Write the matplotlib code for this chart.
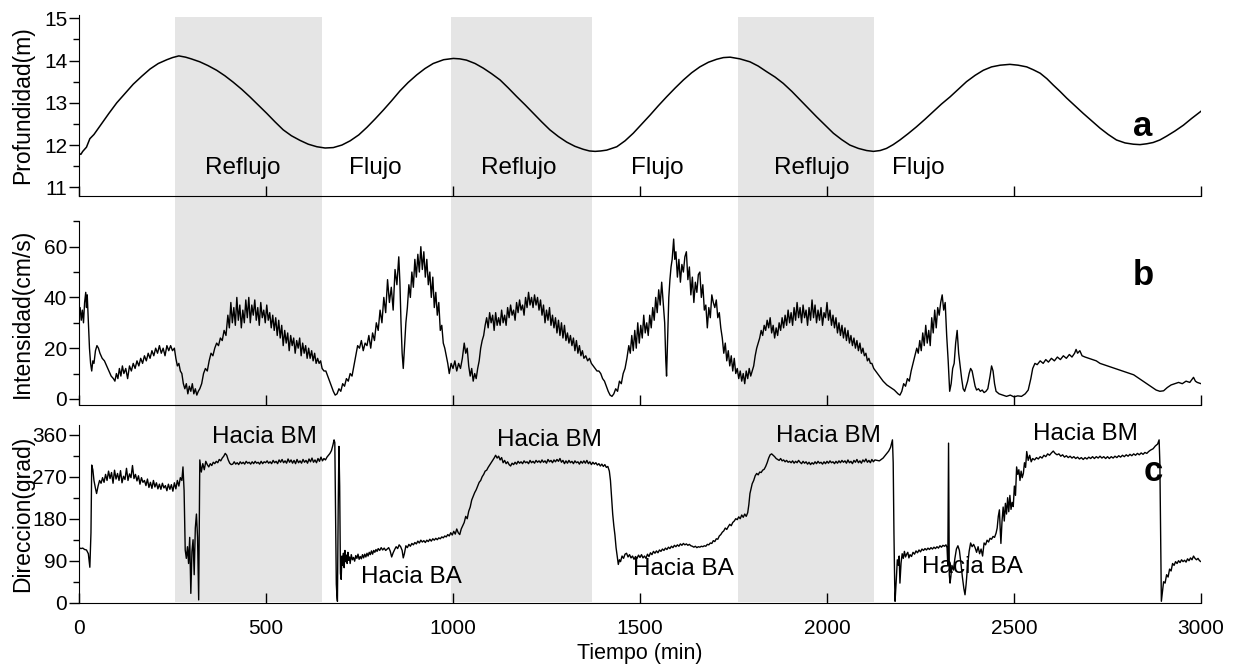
import numpy as np
import matplotlib
matplotlib.use("Agg")
import matplotlib.pyplot as plt
from matplotlib.patches import Rectangle
from matplotlib.ticker import MultipleLocator
from matplotlib.transforms import blended_transform_factory

plt.rcParams["font.family"] = ["Liberation Sans", "DejaVu Sans"]

# --- data: (minutes, value) ---
depth = np.array([
    (0, 11.80), (5, 11.78), (10, 11.85), (20, 11.95), (29, 12.15), (40, 12.25), (56, 12.45), (80, 12.75),
    (101, 13.0), (123, 13.22), (145, 13.44), (168, 13.63), (190, 13.80), (212, 13.93), (235, 14.02),
    (250, 14.07), (267, 14.11), (285, 14.08), (300, 14.04), (323, 13.97), (345, 13.88), (368, 13.77),
    (390, 13.64), (412, 13.49), (435, 13.32), (457, 13.14), (480, 12.94), (502, 12.75), (524, 12.55),
    (546, 12.36), (568, 12.22), (591, 12.11), (613, 12.02), (636, 11.96), (658, 11.93), (680, 11.94),
    (703, 12.00), (725, 12.10), (748, 12.24), (770, 12.42), (792, 12.62), (814, 12.83), (836, 13.05),
    (858, 13.28), (880, 13.48), (903, 13.66), (925, 13.81), (947, 13.93), (975, 14.02), (1001, 14.05),
    (1018, 14.04), (1036, 14.01), (1059, 13.93), (1081, 13.82), (1103, 13.69), (1126, 13.54),
    (1148, 13.35), (1170, 13.15), (1193, 12.95), (1215, 12.75), (1237, 12.55), (1259, 12.36),
    (1282, 12.20), (1304, 12.07), (1326, 11.97), (1348, 11.90), (1365, 11.86), (1380, 11.85),
    (1395, 11.86), (1411, 11.88), (1438, 11.96), (1460, 12.10), (1482, 12.28), (1504, 12.49),
    (1527, 12.71), (1549, 12.93), (1571, 13.14), (1594, 13.35), (1616, 13.54), (1638, 13.71),
    (1660, 13.85), (1683, 13.96), (1705, 14.03), (1723, 14.07), (1741, 14.08), (1767, 14.04),
    (1794, 13.97), (1816, 13.87), (1838, 13.74), (1861, 13.61), (1883, 13.46), (1906, 13.27),
    (1928, 13.07), (1950, 12.87), (1972, 12.67), (1995, 12.47), (2017, 12.28), (2039, 12.13),
    (2061, 12.00), (2084, 11.92), (2106, 11.87), (2124, 11.85), (2142, 11.87), (2159, 11.92),
    (2177, 12.01), (2195, 12.12), (2217, 12.27), (2239, 12.43), (2262, 12.61), (2284, 12.79),
    (2306, 12.97), (2329, 13.14), (2351, 13.32), (2373, 13.50), (2396, 13.65), (2418, 13.77),
    (2440, 13.85), (2463, 13.89), (2489, 13.91), (2511, 13.89), (2534, 13.85), (2552, 13.78),
    (2570, 13.70), (2588, 13.57), (2605, 13.42), (2623, 13.27), (2641, 13.11), (2663, 12.93),
    (2685, 12.75), (2708, 12.57), (2730, 12.40), (2752, 12.25), (2774, 12.12), (2797, 12.05),
    (2819, 12.02), (2837, 12.01), (2855, 12.03), (2872, 12.06), (2890, 12.12), (2908, 12.21),
    (2930, 12.33), (2953, 12.47), (2975, 12.63), (3000, 12.80),
])

speed = np.array([
    (0, 33), (3, 36), (6, 31), (9, 35), (12, 30), (15, 38), (18, 42), (20, 36), (22, 41), (25, 30), (28, 20),
    (31, 14), (34, 11), (37, 15), (40, 14), (44, 19), (48, 21), (52, 20), (56, 18), (62, 16), (68, 15),
    (74, 13), (80, 11), (86, 9), (92, 8), (96, 7), (100, 10), (104, 8), (108, 12), (112, 9), (116, 13),
    (120, 10), (125, 12), (130, 8), (135, 13), (140, 11), (145, 14), (150, 12), (155, 15), (160, 13),
    (165, 16), (170, 14), (175, 17), (180, 15), (185, 18), (190, 16), (195, 19), (200, 17), (205, 20),
    (210, 18), (215, 21), (220, 18), (225, 20), (230, 17), (235, 21), (240, 19), (245, 21), (250, 19),
    (255, 20), (259, 16), (263, 13), (267, 14), (271, 11), (275, 10), (279, 6), (283, 4), (287, 6),
    (291, 2), (295, 5), (299, 3), (303, 6), (307, 2), (311, 4), (315, 1.5), (319, 3), (323, 4), (328, 6),
    (333, 10), (338, 12), (343, 11), (348, 15), (353, 18), (358, 17), (363, 20), (368, 22), (373, 21),
    (378, 24), (383, 23), (388, 27), (393, 25), (398, 33), (402, 28), (406, 38), (410, 30), (414, 36),
    (418, 29), (422, 40), (426, 31), (430, 37), (434, 28), (438, 35), (442, 30), (446, 39), (450, 32),
    (454, 40), (458, 30), (462, 37), (466, 33), (470, 39), (474, 31), (478, 36), (482, 29), (486, 38),
    (490, 32), (494, 35), (498, 30), (502, 37), (506, 31), (510, 34), (514, 28), (518, 33), (522, 27),
    (526, 32), (530, 25), (534, 31), (538, 24), (542, 29), (546, 21), (550, 27), (554, 22), (558, 26),
    (562, 19), (566, 25), (570, 21), (574, 24), (578, 18), (582, 23), (586, 20), (590, 24), (594, 17),
    (598, 22), (602, 18), (606, 21), (610, 16), (614, 20), (618, 16), (622, 19), (626, 15), (630, 18),
    (634, 14), (638, 16), (642, 14), (646, 15), (650, 12), (655, 11), (660, 11), (665, 9), (670, 7),
    (675, 5), (680, 3), (685, 1.5), (690, 2), (695, 4), (700, 3), (705, 6), (710, 5), (715, 8), (720, 7),
    (725, 10), (730, 9), (735, 13), (740, 17), (745, 21), (750, 20), (755, 23), (760, 19), (765, 22),
    (770, 21), (775, 25), (780, 20), (785, 26), (790, 23), (795, 30), (800, 27), (805, 35), (810, 30),
    (815, 40), (820, 34), (825, 47), (830, 38), (835, 44), (840, 35), (845, 51), (850, 45), (855, 56),
    (858, 46), (861, 30), (864, 18), (867, 12), (870, 20), (874, 30), (878, 36), (882, 45), (886, 40),
    (890, 50), (894, 44), (898, 55), (902, 48), (906, 57), (910, 50), (914, 60), (918, 51), (922, 58),
    (926, 48), (930, 55), (934, 45), (938, 50), (942, 40), (946, 48), (950, 36), (954, 42), (958, 33),
    (962, 38), (966, 27), (970, 29), (974, 22), (978, 20), (982, 17), (986, 14), (990, 10), (995, 14),
    (1000, 12), (1005, 15), (1010, 11), (1015, 14), (1020, 12), (1025, 16), (1030, 22), (1034, 18),
    (1038, 20), (1042, 13), (1046, 9), (1050, 12), (1054, 7), (1058, 10), (1062, 8), (1066, 12),
    (1070, 15), (1074, 20), (1078, 23), (1082, 25), (1086, 29), (1090, 32), (1094, 28), (1098, 34),
    (1102, 30), (1106, 33), (1110, 27), (1114, 34), (1118, 29), (1122, 32), (1126, 29), (1130, 35),
    (1134, 30), (1138, 33), (1142, 29), (1146, 36), (1150, 32), (1154, 37), (1158, 33), (1162, 35),
    (1166, 31), (1170, 38), (1174, 34), (1178, 39), (1182, 35), (1186, 37), (1190, 33), (1194, 40),
    (1198, 36), (1202, 42), (1206, 37), (1210, 40), (1214, 36), (1218, 41), (1222, 37), (1226, 40),
    (1230, 35), (1234, 39), (1238, 33), (1242, 37), (1246, 30), (1250, 35), (1254, 31), (1258, 36),
    (1262, 29), (1266, 33), (1270, 28), (1274, 32), (1278, 26), (1282, 31), (1286, 25), (1290, 30),
    (1294, 24), (1298, 29), (1302, 23), (1306, 26), (1310, 22), (1314, 25), (1318, 21), (1322, 24),
    (1326, 19), (1330, 23), (1334, 18), (1338, 21), (1342, 17), (1346, 19), (1350, 16), (1355, 17),
    (1360, 15), (1365, 16), (1370, 14), (1375, 13), (1380, 12), (1385, 11), (1390, 11), (1395, 10),
    (1400, 8), (1405, 7), (1410, 5), (1415, 3), (1420, 1.5), (1425, 1), (1430, 2), (1435, 4), (1440, 3),
    (1445, 7), (1450, 6), (1455, 10), (1460, 12), (1465, 16), (1470, 21), (1474, 18), (1478, 25),
    (1482, 19), (1486, 27), (1490, 20), (1494, 30), (1498, 22), (1502, 29), (1506, 24), (1510, 33),
    (1514, 26), (1518, 30), (1522, 25), (1526, 33), (1530, 28), (1534, 36), (1538, 31), (1542, 40),
    (1546, 34), (1550, 43), (1554, 37), (1558, 46), (1562, 38), (1566, 30), (1569, 15), (1571, 9),
    (1574, 25), (1577, 40), (1580, 47), (1583, 52), (1586, 55), (1590, 63), (1593, 55), (1596, 58),
    (1600, 48), (1604, 55), (1608, 46), (1612, 53), (1616, 50), (1620, 56), (1624, 58), (1628, 47),
    (1632, 52), (1636, 41), (1640, 48), (1644, 38), (1648, 46), (1652, 42), (1656, 49), (1660, 50),
    (1664, 40), (1668, 45), (1672, 35), (1676, 37), (1680, 28), (1684, 36), (1688, 32), (1692, 41),
    (1696, 38), (1700, 36), (1704, 39), (1708, 32), (1712, 34), (1716, 28), (1720, 24), (1724, 18),
    (1728, 22), (1732, 15), (1736, 19), (1740, 13), (1744, 17), (1748, 11), (1752, 16), (1756, 10),
    (1760, 12), (1764, 8), (1768, 11), (1772, 7), (1776, 10), (1780, 6), (1784, 11), (1788, 8),
    (1792, 12), (1796, 9), (1800, 11), (1804, 13), (1808, 17), (1812, 20), (1816, 22), (1820, 24),
    (1824, 27), (1828, 25), (1832, 29), (1836, 27), (1840, 31), (1844, 28), (1848, 32), (1852, 26),
    (1856, 29), (1860, 24), (1864, 28), (1868, 25), (1872, 30), (1876, 27), (1880, 32), (1884, 28),
    (1888, 33), (1892, 29), (1896, 35), (1900, 30), (1904, 34), (1908, 29), (1912, 36), (1916, 31),
    (1920, 38), (1924, 32), (1928, 36), (1932, 30), (1936, 37), (1940, 32), (1944, 35), (1948, 29),
    (1952, 36), (1956, 31), (1960, 39), (1964, 32), (1968, 37), (1972, 30), (1976, 35), (1980, 31),
    (1984, 36), (1988, 29), (1992, 34), (1996, 32), (2000, 38), (2004, 31), (2008, 35), (2012, 29),
    (2016, 33), (2020, 28), (2024, 32), (2028, 26), (2032, 30), (2036, 25), (2040, 29), (2044, 24),
    (2048, 28), (2052, 23), (2056, 27), (2060, 22), (2064, 25), (2068, 21), (2072, 24), (2076, 20),
    (2080, 23), (2084, 19), (2088, 22), (2092, 18), (2096, 20), (2100, 17), (2104, 18), (2108, 15),
    (2112, 16), (2116, 14), (2120, 14), (2125, 12), (2130, 11), (2140, 9), (2150, 7), (2160, 5.5),
    (2170, 4.5), (2180, 3.5), (2190, 2), (2195, 1.5), (2200, 3), (2205, 6), (2210, 5), (2215, 8),
    (2220, 7), (2225, 11), (2230, 14), (2235, 17), (2240, 20), (2244, 18), (2248, 23), (2252, 19),
    (2256, 26), (2260, 21), (2264, 29), (2268, 22), (2272, 27), (2276, 21), (2280, 32), (2284, 26),
    (2288, 35), (2292, 28), (2296, 36), (2300, 33), (2304, 38), (2308, 41), (2312, 35), (2316, 38),
    (2320, 25), (2324, 15), (2328, 3), (2332, 6), (2336, 12), (2340, 14), (2344, 22), (2348, 27),
    (2352, 18), (2356, 13), (2360, 8), (2364, 4), (2368, 3), (2372, 5), (2376, 7), (2380, 10),
    (2384, 12), (2388, 11), (2392, 8), (2396, 5), (2400, 3.5), (2405, 4), (2410, 3), (2415, 3.5),
    (2420, 2.5), (2425, 3), (2430, 4), (2436, 9), (2440, 13), (2444, 11), (2448, 6), (2452, 3),
    (2460, 2), (2470, 1.5), (2480, 1), (2490, 1.5), (2500, 0.8), (2510, 1.2), (2520, 1), (2530, 2),
    (2538, 3.5), (2545, 8), (2550, 12), (2556, 14), (2562, 13.5), (2570, 15), (2578, 14),
    (2585, 15.5), (2592, 14.5), (2600, 16), (2608, 15), (2616, 16.5), (2624, 15.5), (2632, 17),
    (2640, 16), (2648, 17.5), (2655, 16.5), (2662, 18), (2666, 19.5), (2670, 18), (2676, 19),
    (2682, 17), (2690, 16.5), (2700, 16), (2710, 15.5), (2720, 15), (2730, 14), (2740, 13.5),
    (2750, 13), (2760, 12.5), (2770, 12), (2780, 11.5), (2790, 11), (2800, 10.5), (2810, 10),
    (2820, 9.5), (2830, 8.5), (2840, 7.5), (2850, 6.5), (2860, 5.5), (2870, 4.5), (2880, 3.5),
    (2890, 3), (2900, 3.2), (2910, 4.5), (2920, 5.5), (2930, 6), (2940, 6.5), (2950, 6), (2960, 7),
    (2970, 6.5), (2980, 8.5), (2985, 7), (2990, 6.5), (3000, 6),
])

direction = np.array([
    (0, 118), (5, 116), (10, 117), (15, 114), (20, 113), (25, 105), (29, 76), (32, 150), (34, 295),
    (37, 285), (40, 262), (44, 245), (47, 234), (51, 250), (55, 262), (59, 256), (63, 268), (67, 258),
    (71, 275), (75, 262), (79, 282), (83, 266), (87, 279), (91, 256), (95, 284), (99, 265), (103, 277),
    (107, 262), (111, 283), (115, 257), (119, 271), (123, 264), (127, 288), (131, 262), (135, 276),
    (139, 268), (143, 294), (147, 266), (151, 275), (155, 261), (159, 272), (163, 254), (167, 268),
    (171, 258), (175, 262), (179, 251), (183, 265), (187, 247), (191, 258), (195, 245), (199, 262),
    (203, 248), (207, 257), (211, 244), (215, 254), (219, 243), (223, 256), (227, 246), (231, 251),
    (235, 240), (239, 254), (243, 243), (247, 253), (251, 239), (255, 257), (259, 244), (263, 262),
    (267, 250), (271, 268), (275, 262), (278, 291), (281, 240), (284, 113), (287, 95), (290, 120),
    (293, 84), (296, 140), (299, 20), (302, 110), (305, 135), (308, 60), (311, 160), (314, 190),
    (317, 140), (320, 6), (323, 306), (327, 280), (331, 298), (335, 285), (339, 303), (343, 296),
    (347, 291), (351, 298), (355, 294), (359, 301), (363, 298), (367, 303), (371, 300), (375, 307),
    (379, 304), (383, 310), (387, 314), (391, 320), (395, 316), (399, 306), (403, 299), (407, 296),
    (411, 297), (415, 302), (419, 297), (423, 300), (427, 296), (431, 302), (435, 298), (439, 301),
    (443, 297), (447, 303), (451, 299), (455, 301), (459, 297), (463, 302), (467, 298), (471, 303),
    (475, 299), (479, 301), (483, 297), (487, 303), (491, 298), (495, 302), (499, 300), (503, 304),
    (507, 299), (511, 302), (515, 298), (519, 305), (523, 300), (527, 303), (531, 298), (535, 306),
    (539, 301), (543, 307), (547, 300), (551, 304), (555, 299), (559, 308), (563, 301), (567, 306),
    (571, 299), (575, 305), (579, 298), (583, 307), (587, 300), (591, 304), (595, 299), (599, 307),
    (603, 301), (607, 305), (611, 299), (615, 308), (619, 302), (623, 310), (627, 301), (631, 306),
    (635, 300), (639, 309), (643, 303), (647, 312), (651, 304), (655, 309), (659, 306), (663, 312),
    (667, 316), (671, 320), (675, 326), (679, 338), (682, 349), (684, 343), (686, 200), (688, 40),
    (690, 10), (691, 3), (693, 200), (695, 335), (697, 250), (699, 63), (701, 50), (703, 100),
    (705, 80), (707, 106), (709, 75), (711, 112), (713, 88), (715, 102), (717, 84), (719, 108),
    (721, 91), (723, 98), (725, 84), (728, 103), (731, 92), (734, 97), (737, 89), (740, 101),
    (743, 95), (746, 104), (749, 93), (752, 99), (755, 94), (758, 103), (761, 96), (764, 104),
    (767, 98), (770, 106), (773, 100), (776, 108), (779, 103), (782, 111), (785, 104), (788, 112),
    (791, 108), (794, 114), (797, 110), (800, 116), (804, 112), (808, 118), (812, 113), (816, 117),
    (820, 112), (824, 115), (828, 118), (832, 111), (836, 98), (840, 107), (844, 114), (848, 120),
    (852, 116), (856, 124), (860, 120), (864, 112), (867, 96), (870, 105), (874, 122), (878, 118),
    (882, 125), (886, 121), (890, 127), (894, 124), (898, 129), (902, 126), (906, 132), (910, 128),
    (914, 134), (918, 130), (922, 133), (926, 129), (930, 134), (934, 131), (938, 136), (942, 132),
    (946, 137), (950, 134), (954, 138), (958, 135), (962, 139), (966, 137), (970, 141), (974, 139),
    (978, 143), (982, 141), (986, 146), (990, 143), (994, 150), (998, 145), (1002, 153), (1006, 147),
    (1010, 158), (1014, 150), (1018, 146), (1022, 158), (1026, 165), (1030, 172), (1034, 185),
    (1038, 180), (1042, 196), (1046, 205), (1050, 220), (1054, 228), (1058, 236), (1062, 242),
    (1066, 250), (1070, 258), (1074, 262), (1078, 270), (1082, 275), (1086, 282), (1090, 284),
    (1094, 290), (1098, 295), (1102, 300), (1106, 305), (1110, 310), (1114, 316), (1118, 310),
    (1122, 314), (1126, 306), (1130, 311), (1134, 300), (1138, 305), (1142, 298), (1146, 302),
    (1150, 296), (1154, 293), (1158, 299), (1162, 296), (1166, 301), (1170, 297), (1174, 303),
    (1178, 299), (1182, 302), (1186, 298), (1190, 304), (1194, 300), (1198, 302), (1202, 298),
    (1206, 305), (1210, 300), (1214, 303), (1218, 299), (1222, 305), (1226, 301), (1230, 304),
    (1234, 300), (1238, 306), (1242, 301), (1246, 304), (1250, 299), (1254, 307), (1258, 302),
    (1262, 305), (1266, 300), (1270, 306), (1274, 302), (1278, 307), (1282, 303), (1286, 309),
    (1290, 301), (1294, 305), (1298, 298), (1302, 304), (1306, 299), (1310, 305), (1314, 300),
    (1318, 303), (1322, 298), (1326, 304), (1330, 300), (1334, 302), (1338, 297), (1342, 303),
    (1346, 299), (1350, 304), (1354, 299), (1358, 305), (1362, 298), (1366, 302), (1370, 296),
    (1374, 301), (1378, 297), (1382, 300), (1386, 295), (1390, 298), (1394, 293), (1398, 297),
    (1402, 292), (1406, 296), (1410, 290), (1414, 292), (1418, 282), (1421, 262), (1424, 225),
    (1427, 190), (1430, 165), (1433, 145), (1436, 118), (1439, 100), (1442, 82), (1445, 92),
    (1448, 88), (1452, 100), (1456, 95), (1460, 104), (1464, 106), (1468, 98), (1472, 103),
    (1476, 96), (1480, 100), (1484, 93), (1488, 99), (1492, 95), (1496, 102), (1500, 97), (1504, 103),
    (1508, 96), (1512, 100), (1516, 95), (1520, 104), (1524, 99), (1528, 107), (1532, 103),
    (1536, 110), (1540, 106), (1544, 111), (1548, 107), (1552, 113), (1556, 110), (1560, 115),
    (1564, 112), (1568, 117), (1572, 114), (1576, 119), (1580, 116), (1584, 121), (1588, 118),
    (1592, 123), (1596, 120), (1600, 124), (1604, 121), (1608, 126), (1612, 123), (1616, 127),
    (1620, 124), (1624, 126), (1628, 123), (1632, 125), (1636, 122), (1640, 121), (1644, 119),
    (1648, 121), (1652, 118), (1656, 120), (1660, 119), (1664, 121), (1668, 120), (1672, 122),
    (1676, 121), (1680, 125), (1684, 124), (1688, 128), (1692, 127), (1696, 133), (1700, 131),
    (1704, 137), (1708, 136), (1712, 143), (1716, 146), (1720, 151), (1724, 154), (1728, 160),
    (1732, 157), (1736, 163), (1740, 168), (1744, 165), (1748, 172), (1752, 175), (1756, 180),
    (1760, 178), (1764, 184), (1768, 180), (1772, 188), (1776, 183), (1780, 190), (1784, 185),
    (1788, 193), (1791, 210), (1794, 234), (1797, 245), (1800, 255), (1804, 262), (1808, 272),
    (1812, 277), (1816, 274), (1820, 280), (1824, 279), (1828, 284), (1832, 286), (1836, 292),
    (1840, 300), (1844, 310), (1848, 317), (1852, 319), (1856, 316), (1860, 313), (1864, 309),
    (1868, 307), (1872, 305), (1876, 309), (1880, 304), (1884, 306), (1888, 302), (1892, 305),
    (1896, 301), (1900, 303), (1904, 300), (1908, 304), (1912, 299), (1916, 303), (1920, 300),
    (1924, 305), (1928, 301), (1932, 298), (1936, 303), (1940, 299), (1944, 302), (1948, 297),
    (1952, 301), (1956, 296), (1960, 300), (1964, 297), (1968, 302), (1972, 298), (1976, 303),
    (1980, 299), (1984, 301), (1988, 297), (1992, 302), (1996, 298), (2000, 303), (2004, 299),
    (2008, 304), (2012, 300), (2016, 302), (2020, 298), (2024, 303), (2028, 299), (2032, 304),
    (2036, 300), (2040, 305), (2044, 301), (2048, 304), (2052, 299), (2056, 306), (2060, 300),
    (2064, 303), (2068, 298), (2072, 305), (2076, 301), (2080, 307), (2084, 300), (2088, 304),
    (2092, 299), (2096, 306), (2100, 302), (2104, 308), (2108, 301), (2112, 305), (2116, 300),
    (2120, 307), (2124, 302), (2128, 306), (2134, 305), (2140, 304), (2150, 310), (2158, 318),
    (2165, 325), (2170, 333), (2175, 349), (2177, 300), (2179, 150), (2181, 40), (2182, 3),
    (2184, 30), (2186, 60), (2188, 92), (2191, 80), (2193, 100), (2195, 42), (2198, 85), (2201, 105),
    (2204, 95), (2207, 110), (2210, 98), (2213, 104), (2216, 108), (2219, 96), (2222, 103),
    (2226, 99), (2230, 108), (2234, 104), (2238, 111), (2242, 107), (2246, 113), (2250, 109),
    (2254, 115), (2258, 112), (2262, 116), (2266, 113), (2270, 117), (2274, 114), (2278, 118),
    (2282, 115), (2286, 119), (2290, 116), (2294, 120), (2298, 117), (2302, 122), (2306, 119),
    (2310, 123), (2314, 121), (2318, 124), (2321, 118), (2323, 80), (2325, 342), (2327, 60),
    (2329, 42), (2331, 55), (2334, 80), (2338, 70), (2342, 95), (2346, 115), (2350, 122), (2354, 112),
    (2358, 85), (2362, 55), (2366, 30), (2369, 17), (2372, 40), (2376, 80), (2380, 110), (2384, 128),
    (2388, 120), (2392, 125), (2396, 118), (2400, 108), (2404, 120), (2408, 105), (2412, 115),
    (2416, 100), (2420, 128), (2424, 124), (2428, 134), (2432, 130), (2436, 138), (2440, 136),
    (2444, 142), (2448, 140), (2452, 149), (2455, 160), (2458, 185), (2461, 199), (2463, 160),
    (2465, 127), (2468, 175), (2471, 205), (2474, 175), (2477, 213), (2480, 190), (2483, 225),
    (2486, 195), (2489, 230), (2492, 200), (2495, 215), (2498, 206), (2501, 250), (2504, 230),
    (2507, 291), (2510, 275), (2513, 285), (2516, 262), (2519, 282), (2522, 268), (2525, 277),
    (2528, 300), (2531, 290), (2534, 324), (2538, 305), (2542, 316), (2546, 302), (2550, 309),
    (2555, 306), (2560, 311), (2565, 308), (2570, 313), (2575, 310), (2580, 316), (2585, 313),
    (2590, 319), (2595, 316), (2600, 321), (2605, 325), (2610, 320), (2615, 317), (2620, 319),
    (2625, 314), (2630, 317), (2635, 312), (2640, 315), (2645, 311), (2650, 314), (2655, 310),
    (2660, 313), (2665, 309), (2670, 312), (2675, 308), (2680, 311), (2685, 307), (2690, 311),
    (2695, 308), (2700, 312), (2705, 309), (2710, 313), (2715, 309), (2720, 313), (2725, 310),
    (2730, 314), (2735, 310), (2740, 313), (2745, 309), (2750, 313), (2755, 309), (2760, 313),
    (2765, 310), (2770, 314), (2775, 311), (2780, 315), (2785, 312), (2790, 316), (2795, 313),
    (2800, 317), (2805, 314), (2810, 318), (2815, 315), (2820, 319), (2825, 316), (2830, 320),
    (2835, 317), (2840, 321), (2845, 318), (2850, 322), (2855, 320), (2860, 324), (2865, 327),
    (2872, 330), (2878, 336), (2884, 340), (2888, 349), (2890, 300), (2892, 150), (2894, 3),
    (2897, 25), (2900, 45), (2904, 42), (2908, 60), (2912, 55), (2916, 72), (2920, 68), (2924, 84),
    (2928, 80), (2932, 88), (2936, 84), (2940, 90), (2944, 86), (2948, 92), (2952, 88), (2956, 91),
    (2960, 87), (2964, 94), (2968, 90), (2972, 96), (2976, 92), (2980, 100), (2984, 95), (2988, 92),
    (2992, 95), (2996, 90), (3000, 88),
])

# ebb (reflujo) windows, minutes
ebb_start = [257, 995, 1761]
ebb_end = [649, 1372, 2125]

phase_labels = ["Reflujo", "Flujo", "Reflujo", "Flujo", "Reflujo", "Flujo"]
phase_x = [439, 791, 1177, 1545, 1960, 2243]

toward_labels = ["Hacia BM", "Hacia BA", "Hacia BM", "Hacia BA", "Hacia BM", "Hacia BA", "Hacia BM"]
toward_x = [497, 890, 1259, 1615, 2003, 2390, 2690]
toward_y = [355, 55, 348, 72, 357, 77, 361]

W, H = 1233, 665
fig = plt.figure(figsize=(W / 100, H / 100), dpi=100)


def px_axes(top, bottom):
    return fig.add_axes([79 / W, 1 - bottom / H, 1122 / W, (bottom - top) / H])


ax_a = px_axes(15, 196)
ax_b = px_axes(221.3, 405)
ax_c = px_axes(425.4, 602.7)

for ax in (ax_a, ax_b, ax_c):
    ax.set_facecolor("none")
    ax.set_xlim(0, 3000)
    for s in ("top", "right"):
        ax.spines[s].set_visible(False)
    ax.xaxis.set_major_locator(MultipleLocator(500))
    ax.tick_params(axis="x", direction="in", length=7.5, width=1, labelsize=15, pad=12)
    ax.tick_params(axis="y", which="major", direction="out", length=7, width=1, labelsize=15, pad=1.5)
    ax.tick_params(axis="y", which="minor", direction="out", length=4.5, width=1)
    ax.yaxis.set_label_coords(-0.040, 0.5)

ax_a.plot(depth[:, 0], depth[:, 1], color="black", lw=1.1)
ax_a.set_ylim(10.794, 15.078)
ax_a.set_yticks([11, 12, 13, 14, 15])
ax_a.yaxis.set_minor_locator(MultipleLocator(0.5))
ax_a.set_ylabel("Profundidad(m)", fontsize=16.5)
ax_a.tick_params(axis="x", labelbottom=False)
for lab, x in zip(phase_labels, phase_x):
    ax_a.text(x, 11.45, lab, fontsize=17.5, ha="center", va="center")
ax_a.text(2845, 12.45, "a", fontsize=25, fontweight="bold", ha="center", va="center")

ax_b.plot(speed[:, 0], speed[:, 1], color="black", lw=1.0)
ax_b.set_ylim(-2.4, 70)
ax_b.set_yticks([0, 20, 40, 60])
ax_b.yaxis.set_minor_locator(MultipleLocator(10))
ax_b.spines["left"].set_bounds(0, 70)
ax_b.set_ylabel("Intensidad(cm/s)", fontsize=16.5)
ax_b.tick_params(axis="x", labelbottom=False)
ax_b.text(2845, 48.5, "b", fontsize=25, fontweight="bold", ha="center", va="center")

ax_c.plot(direction[:, 0], direction[:, 1], color="black", lw=1.0)
ax_c.set_ylim(0, 380)
ax_c.set_yticks([0, 90, 180, 270, 360])
ax_c.yaxis.set_minor_locator(MultipleLocator(45))
ax_c.set_ylabel("Direccion(grad)", fontsize=16.5)
ax_c.set_xlabel("Tiempo (min)", fontsize=15.5, labelpad=3)
for lab, x, y in zip(toward_labels, toward_x, toward_y):
    ax_c.text(x, y, lab, fontsize=17.5, ha="center", va="center")
ax_c.text(2872, 282, "c", fontsize=25, fontweight="bold", ha="center", va="center")

# grey ebb bands run through all three panels
trans = blended_transform_factory(ax_c.transData, fig.transFigure)
for x0, x1 in zip(ebb_start, ebb_end):
    fig.add_artist(Rectangle((x0, 1 - 602 / H), x1 - x0, (602 - 17) / H,
                             transform=trans, facecolor="#e5e5e5",
                             edgecolor="none", zorder=-1))

fig.savefig("out.png", dpi=100)
